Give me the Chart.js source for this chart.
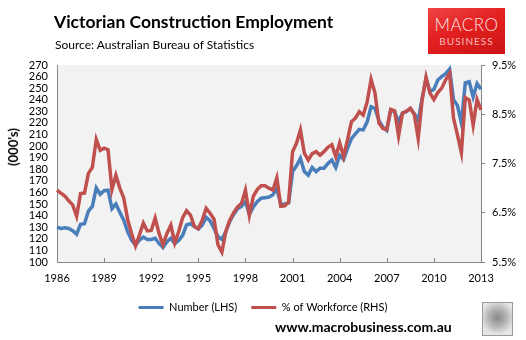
<!DOCTYPE html>
<html lang="en">
<head>
    <meta charset="UTF-8">
    <title>Victorian Construction Employment</title>
    <script src="https://cdn.jsdelivr.net/npm/chart.js"></script>
    <style>
        body {
            margin: 0;
            padding: 0;
            background: #ffffff;
            font-family: Lato, "Liberation Sans", sans-serif;
        }

        #page {
            position: relative;
            width: 526px;
            height: 340px;
            overflow: hidden;
        }

        #chartBox {
            position: absolute;
            left: 0;
            top: 0;
            width: 526px;
            height: 340px;
        }

        .title {
            position: absolute;
            left: 54px;
            top: 12px;
            font-size: 17.5px;
            font-weight: bold;
            line-height: 20px;
            color: #000;
        }

        .source {
            position: absolute;
            left: 55px;
            top: 38px;
            font-size: 12px;
            line-height: 14px;
            color: #000;
        }

        .logo {
            position: absolute;
            left: 428px;
            top: 8px;
            width: 77px;
            height: 46px;
            background: linear-gradient(160deg, #f04545 0%, #e2201f 45%, #cc1515 100%);
            text-align: center;
        }

        .logo .m {
            margin-top: 8px;
            font-size: 17px;
            line-height: 17px;
            font-weight: 300;
            color: #fbe3e3;
            letter-spacing: 0.5px;
        }

        .logo .b {
            margin-top: 3px;
            font-size: 10px;
            line-height: 11px;
            color: #f7bcbc;
            letter-spacing: 1px;
        }

        .yTitle {
            position: absolute;
            left: 13px;
            top: 147px;
            transform: translate(-50%, -50%) rotate(-90deg);
            font-size: 13px;
            font-weight: bold;
            white-space: nowrap;
        }

        .site {
            position: absolute;
            left: 275px;
            top: 318px;
            font-size: 14px;
            font-weight: bold;
            line-height: 17px;
            color: #000;
        }

        .wolf {
            position: absolute;
            left: 482px;
            top: 302px;
            width: 29px;
            height: 32px;
            border: 1px solid #9a9a9a;
            background: radial-gradient(circle at 50% 45%, #8a8a8a 0%, #b5b5b5 40%, #e6e6e6 75%);
        }
    </style>
</head>
<body>
<div id="page">
    <div id="chartBox"><canvas id="employmentChart"></canvas></div>
    <div class="title">Victorian Construction Employment</div>
    <div class="source">Source: Australian Bureau of Statistics</div>
    <div class="logo"><div class="m">MACRO</div><div class="b">BUSINESS</div></div>
    <div class="yTitle">(000's)</div>
    <div class="site">www.macrobusiness.com.au</div>
    <div class="wolf"></div>
</div>

<script>
    // quarterly, 1986 to early 2013
    const startYear = 1986;
    const tickYears = [1986, 1989, 1992, 1995, 1998, 2001, 2004, 2007, 2010, 2013];

    // Number employed (000's), left axis
    const numberLHS = [
        130, 129, 129.5, 129, 127, 124, 132.5, 133, 144, 148,
        164, 158.5, 161.5, 162, 146, 150, 143, 136, 126, 119,
        114.5, 119, 121.5, 119.5, 119.5, 120.5, 116, 112.5, 117.5, 120.5,
        116, 118.5, 123, 132, 133, 130.5, 128.5, 132, 138.5, 135.5,
        129, 122, 119.5, 126, 135, 141, 146, 148, 152, 141,
        147.5, 152, 155, 155.5, 156, 158, 163.5, 149.5, 150, 151,
        178, 183, 189.5, 178, 175, 181.5, 178, 181, 181, 185,
        188, 181.5, 192, 188.5, 198, 206.5, 210.5, 214.5, 214, 221,
        234, 232.5, 222, 216.5, 213.5, 231, 229.5, 221, 228.5, 230,
        232.5, 228, 222, 241, 258.5, 247, 249, 257, 260, 262.5,
        266.5, 240, 235, 220, 254.5, 255.5, 242.5, 254, 249
    ];

    // Share of workforce (%), right axis
    const shareRHS = [
        6.96, 6.90, 6.84, 6.74, 6.66, 6.43, 6.89, 6.90, 7.30, 7.42,
        7.99, 7.77, 7.81, 7.78, 6.97, 7.26, 7.00, 6.80, 6.36, 6.08,
        5.83, 6.05, 6.29, 6.13, 6.14, 6.39, 6.08, 5.85, 6.08, 6.25,
        5.89, 6.12, 6.40, 6.54, 6.45, 6.22, 6.18, 6.35, 6.59, 6.49,
        6.37, 5.85, 5.70, 6.12, 6.35, 6.50, 6.62, 6.69, 6.96, 6.45,
        6.83, 6.97, 7.05, 7.05, 7.00, 6.96, 7.21, 6.63, 6.64, 6.72,
        7.74, 7.91, 8.18, 7.71, 7.57, 7.70, 7.74, 7.67, 7.74, 7.83,
        7.88, 7.64, 7.92, 7.64, 7.98, 8.35, 8.42, 8.55, 8.48, 8.75,
        9.21, 8.93, 8.32, 8.21, 8.19, 8.60, 8.57, 8.06, 8.52, 8.56,
        8.62, 8.50, 8.01, 8.79, 9.25, 8.93, 8.80, 8.94, 9.03, 9.20,
        9.33, 8.42, 8.08, 7.72, 8.84, 8.79, 8.28, 8.80, 8.59
    ];

    const labels = numberLHS.map((v, i) => String(startYear + Math.floor(i / 4)));

    const plotBackground = {
        id: 'plotBackground',
        beforeDraw(chart) {
            const a = chart.chartArea;
            const c = chart.ctx;
            c.save();
            c.fillStyle = '#f2f2f2';
            c.fillRect(a.left, a.top, a.right - a.left, a.bottom - a.top);
            c.restore();
        }
    };

    // small inward tick marks on the year axis
    const yearTicks = {
        id: 'yearTicks',
        afterDraw(chart) {
            const x = chart.scales.x;
            const c = chart.ctx;
            c.save();
            c.strokeStyle = '#868686';
            c.lineWidth = 1;
            labels.forEach((l, i) => {
                if (i % 4 === 0 && tickYears.includes(startYear + i / 4) && i > 0) {
                    const px = Math.round(x.getPixelForValue(i)) + 0.5;
                    c.beginPath();
                    c.moveTo(px, x.top);
                    c.lineTo(px, x.top - 4);
                    c.stroke();
                }
            });
            c.restore();
        }
    };

    const ctx = document.getElementById('employmentChart').getContext('2d');
    new Chart(ctx, {
        type: 'line',
        data: {
            labels: labels,
            datasets: [
                {
                    label: 'Number (LHS)',
                    data: numberLHS,
                    yAxisID: 'y',
                    borderColor: '#4a7ebb',
                    backgroundColor: '#4a7ebb',
                    borderWidth: 3.5,
                    pointRadius: 0,
                    tension: 0,
                    order: 1
                },
                {
                    label: '% of Workforce (RHS)',
                    data: shareRHS,
                    yAxisID: 'y1',
                    borderColor: '#c0504d',
                    backgroundColor: '#c0504d',
                    borderWidth: 3.5,
                    pointRadius: 0,
                    tension: 0,
                    order: 0
                }
            ]
        },
        options: {
            responsive: true,
            maintainAspectRatio: false,
            animation: false,
            layout: {
                padding: { top: 65, left: 0, right: 0, bottom: 17 }
            },
            plugins: {
                tooltip: { enabled: false },
                legend: {
                    position: 'bottom',
                    reverse: true,
                    labels: {
                        boxWidth: 25,
                        boxHeight: 3,
                        padding: 14,
                        color: '#000',
                        font: { family: 'Lato', size: 11 },
                        generateLabels: function (chart) {
                            const items = Chart.defaults.plugins.legend.labels.generateLabels(chart);
                            items.forEach(it => { it.lineWidth = 0; });
                            return items;
                        }
                    }
                }
            },
            scales: {
                x: {
                    type: 'category',
                    grid: { display: false, drawTicks: false },
                    border: { display: true, color: '#868686' },
                    ticks: {
                        autoSkip: false,
                        maxRotation: 0,
                        padding: 10,
                        color: '#000',
                        font: { family: 'Lato', size: 11 },
                        callback: function (value, index) {
                            if (index % 4 !== 0) return null;
                            const yr = startYear + index / 4;
                            return tickYears.includes(yr) ? String(yr) : null;
                        }
                    },
                    afterFit: function (scale) { scale.height = 26; }
                },
                y: {
                    position: 'left',
                    min: 100,
                    max: 270,
                    grid: { display: false, drawTicks: false },
                    border: { display: true, color: '#868686' },
                    ticks: {
                        stepSize: 10,
                        autoSkip: false,
                        padding: 9,
                        color: '#000',
                        font: { family: 'Lato', size: 11 }
                    },
                    afterFit: function (scale) { scale.width = 57; }
                },
                y1: {
                    position: 'right',
                    min: 5.5,
                    max: 9.5,
                    grid: { display: true, drawOnChartArea: false, drawTicks: true, tickLength: 4, color: '#868686' },
                    border: { display: true, color: '#868686' },
                    ticks: {
                        stepSize: 1,
                        autoSkip: false,
                        padding: 7,
                        color: '#000',
                        font: { family: 'Lato', size: 11 },
                        callback: function (value) { return value.toFixed(1) + '%'; }
                    },
                    afterFit: function (scale) { scale.width = 45; }
                }
            }
        },
        plugins: [plotBackground, yearTicks]
    });
</script>
</body>
</html>
